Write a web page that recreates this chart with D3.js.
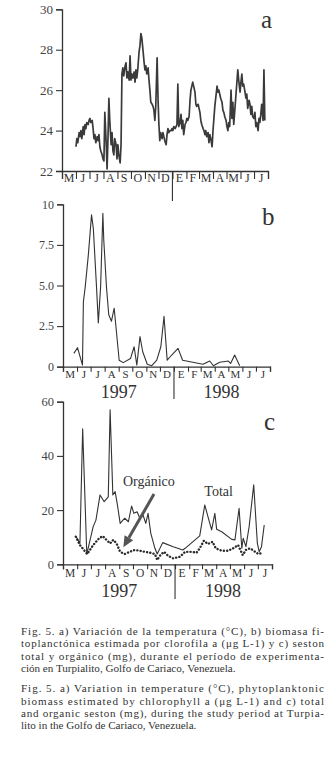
<!DOCTYPE html>
<html><head><meta charset="utf-8">
<script src="https://cdn.jsdelivr.net/npm/d3@7"></script>
<style>body{margin:0;background:#fff}svg{display:block}</style>
</head><body>
<svg id="chart" width="327" height="770"></svg>
<script>
// ---- data ----
const monthLabels = ["M","J","J","A","S","O","N","D","E","F","M","A","M","J","J"];
const yearLabels = ["1997","1998"];
const panelLetters = ["a","b","c"];
const tempTicks = [22,24,26,28,30];
const chlTicks = [0,2.5,5,7.5,10];
const chlTickLabels = ["0","2.5","5.0","7.5","10"];
const sestonTicks = [0,20,40,60];

// days since 1 May 1997
const tempDays = [31,33,35,38,40,42,44,47,49,51,53,55,58,60,62,64,67,69,71,73,75,78,80,82,84,86,89,91,93,95,98,100,102,104,106,109,111,113,115,117,120,122,124,126,129,131,133,135,137,140,142,144,146,149,151,153,155,157,160,162,164,166,168,171,173,175,177,180,182,184,186,188,191,193,195,197,200,202,204,206,208,211,213,215,217,219,222,224,226,228,231,233,235,237,239,242,244,246,248,251,253,255,257,259,262,264,266,268,270,273,275,277,279,282,284,286,288,290,293,295,297,299,302,304,306,308,310,313,315,317,319,321,324,326,328,330,333,335,337,339,341,344,346,348,350,352,355,357,359,361,364,366,368,370,372,375,377,379,381,384,386,388,390,392,395,397,399,401,403,406,408,410,412,415,417,419,421,423,426,428,430,432,435,437,439,441,443,446,448,450];
const tempValues = [23.2,23.6,23.4,23.9,23.7,24.0,23.6,24.2,23.8,24.3,24.1,24.4,24.3,24.5,24.6,24.4,24.5,24.1,23.6,23.8,23.4,23.7,23.5,23.8,23.2,23.0,22.8,22.6,22.5,24.9,23.4,22.1,23.6,25.6,24.5,23.3,23.9,23.0,22.8,23.6,23.3,22.6,23.3,22.8,22.4,23.3,26.8,27.1,26.7,27.2,27.35,26.6,26.9,26.5,27.7,26.5,26.8,26.6,26.9,26.4,27.0,26.6,27.0,27.9,28.2,28.8,28.6,27.9,27.4,27.0,27.2,26.8,27.1,26.5,26.0,25.4,25.3,25.2,25.0,24.5,25.2,27.6,25.6,24.3,23.5,23.9,23.6,23.9,23.7,23.5,23.3,23.8,24.1,23.9,24.0,24.0,24.1,24.0,24.2,24.1,24.2,24.3,26.3,24.2,24.4,24.8,24.1,24.5,23.8,24.3,24.4,24.6,24.5,24.7,25.5,26.0,26.2,26.4,26.1,25.9,25.3,25.2,25.3,25.1,24.9,24.5,24.3,24.1,24.0,23.8,24.0,23.7,23.9,23.4,23.8,23.6,23.2,24.0,24.6,25.2,25.6,26.2,25.9,26.0,25.8,25.6,25.4,25.0,24.9,24.7,24.5,24.2,24.0,24.4,24.2,26.0,24.6,25.4,24.3,25.2,25.8,26.4,27.0,26.5,25.9,26.4,26.8,26.2,26.3,25.9,25.6,25.8,25.1,25.5,25.3,24.8,25.2,24.7,24.6,24.9,24.2,24.4,24.0,24.6,24.4,24.8,25.3,24.5,27.0,24.5];

const chlDays = [24,32,43,45,49,56,63,67,74,78,83,88,90,96,101,107,113,124,133,149,157,163,170,176,186,196,207,216,223,230,240,254,264,309,324,332,346,365,370,379,390];
const chlValues = [0.82,1.17,0.1,4.0,4.9,6.9,9.35,8.5,4.9,2.7,4.9,9.45,7.8,4.9,3.2,2.8,3.6,0.4,0.25,0.5,1.23,0.1,1.85,0.92,0.15,0.06,0.4,1.23,3.1,0.4,0.72,1.13,0.4,0.15,0.35,0.06,0.27,0.35,0.2,0.72,0.06];

const totalDays = [29,37,43,52,66,72,81,90,99,103,109,114,119,125,135,143,150,155,162,168,175,181,186,192,201,206,218,241,262,267,299,310,319,325,332,336,347,369,376,385,391,394,400,407,417,425,429,434,440];
const totalValues = [10.2,7.7,50,3.8,13.9,16.3,25.6,23.1,24.9,57,25.6,26.8,21.9,15.1,17,15.7,21.5,18.8,19.4,17,18.2,15.1,18.8,11.4,5.9,3.8,8.0,6.5,5.3,5.9,10.5,21.9,16.3,12.7,18.8,12.9,12.0,9.2,9.0,20.7,5.9,9.6,6.5,13.9,29.3,7.7,4.6,6.5,14.5];

const organicDays = [28,37,53,66,79,87,95,103,110,117,125,135,146,157,168,179,190,201,206,213,221,230,241,256,267,281,292,299,308,317,327,334,347,361,372,383,393,400,409,417,427,438];
const organicValues = [10.2,7.1,3.8,7.1,9.6,10.4,9.0,7.7,9.0,7.7,4.6,3.8,4.6,5.3,5.0,4.6,4.3,3.8,1.6,3.4,4.6,3.1,2.2,2.8,4.6,4.6,4.3,5.9,8.7,7.5,8.3,5.9,5.0,5.0,5.9,7.1,3.4,5.3,5.9,5.0,3.8,4.3];

const captionEs = [
  "Fig. 5. a) Variación de la temperatura (°C), b) biomasa fi-",
  "toplanctónica estimada por clorofila a (μg L-1) y c) seston",
  "total y orgánico (mg), durante el período de experimenta-",
  "ción en Turpialito, Golfo de Cariaco, Venezuela."
];
const captionEn = [
  "Fig. 5. a) Variation in temperature (°C), phytoplanktonic",
  "biomass estimated by chlorophyll a  (μg L-1) and c) total",
  "and organic seston (mg), during the study period at Turpia-",
  "lito in the Golfo de Cariaco, Venezuela."
];

// ---- drawing ----
const svg = d3.select("#chart");
const ink = "#333";
const serif = "Liberation Serif, DejaVu Serif, serif";
const start = new Date(1997, 4, 1);
const end = new Date(1998, 7, 1);
const dayToDate = d => d3.timeDay.offset(start, d);
const months = d3.timeMonth.range(start, d3.timeDay.offset(end, 1));
const yearSplit = new Date(1998, 0, 1);

function panel(cfg) {
  const x = d3.scaleTime().domain([start, end]).range(cfg.xr);
  const y = d3.scaleLinear().domain(cfg.yd).range(cfg.yr);
  const g = svg.append("g");

  const ya = g.append("g").attr("transform", `translate(${cfg.xr[0]},0)`)
    .call(d3.axisLeft(y).tickValues(cfg.ticks).tickSizeOuter(0).tickSize(6).tickPadding(3)
      .tickFormat((d, i) => cfg.tickLabels[i]));
  const xa = g.append("g").attr("transform", `translate(0,${cfg.yr[0]})`)
    .call(d3.axisBottom(x).tickValues(months).tickSizeOuter(0).tickSize(cfg.xTick).tickFormat(""));
  [ya, xa].forEach(a => {
    a.attr("font-family", serif);
    a.select(".domain").attr("stroke", ink).attr("stroke-width", 1.3);
    a.selectAll(".tick line").attr("stroke", ink).attr("stroke-width", 1.1);
    a.selectAll("text").attr("fill", "#444").attr("font-family", serif).attr("font-size", cfg.yFont);
  });

  g.selectAll(".ml").data(monthLabels).join("text")
    .attr("x", (d, i) => (x(months[i]) + x(months[i + 1])) / 2)
    .attr("y", cfg.monthY)
    .attr("text-anchor", "middle").attr("font-family", serif).attr("font-size", cfg.monthFont)
    .attr("fill", ink).text(d => d);

  g.append("line").attr("x1", x(yearSplit)).attr("x2", x(yearSplit))
    .attr("y1", cfg.yr[0]).attr("y2", cfg.divEnd).attr("stroke", ink).attr("stroke-width", 1.1);

  if (cfg.yearY) {
    const yearPos = [new Date(1997, 8, 1), new Date(1998, 3, 16)];
    g.selectAll(".yl").data(yearLabels).join("text")
      .attr("x", (d, i) => x(yearPos[i])).attr("y", cfg.yearY)
      .attr("text-anchor", "middle").attr("font-family", serif).attr("font-size", 18)
      .attr("fill", ink).text(d => d);
  }

  g.append("text").attr("x", cfg.letterX).attr("y", cfg.letterY)
    .attr("font-family", serif).attr("font-size", 25).attr("fill", ink).text(cfg.letter);
  return {g, x, y};
}

// Panel a
const pa = panel({xr: [62, 268], yr: [171, 9.3], yd: [22, 30], ticks: tempTicks,
  tickLabels: tempTicks.map(String), xTick: 8, yFont: 13, monthY: 181.5, monthFont: 12,
  divEnd: 201, letter: panelLetters[0], letterX: 261, letterY: 28});
pa.g.append("path").datum(d3.zip(tempDays, tempValues))
  .attr("fill", "none").attr("stroke", "#3a3a3a").attr("stroke-width", 1.7).attr("stroke-linejoin", "round")
  .attr("d", d3.line().x(d => pa.x(dayToDate(d[0]))).y(d => pa.y(d[1])));

// Panel b
const pb = panel({xr: [63, 270], yr: [366.7, 204.3], yd: [0, 10], ticks: chlTicks,
  tickLabels: chlTickLabels, xTick: 5, yFont: 12, monthY: 378, monthFont: 11,
  divEnd: 399, yearY: 398, letter: panelLetters[1], letterX: 262, letterY: 225});
pb.g.append("path").datum(d3.zip(chlDays, chlValues))
  .attr("fill", "none").attr("stroke", ink).attr("stroke-width", 1.1).attr("stroke-linejoin", "round")
  .attr("d", d3.line().x(d => pb.x(dayToDate(d[0]))).y(d => pb.y(d[1])));

// Panel c
const pc = panel({xr: [63, 272], yr: [564.3, 401.7], yd: [0, 60], ticks: sestonTicks,
  tickLabels: sestonTicks.map(String), xTick: 5, yFont: 12.5, monthY: 577, monthFont: 11.5,
  divEnd: 599, yearY: 597, letter: panelLetters[2], letterX: 264, letterY: 430});
pc.g.append("path").datum(d3.zip(totalDays, totalValues))
  .attr("fill", "none").attr("stroke", ink).attr("stroke-width", 1.1).attr("stroke-linejoin", "round")
  .attr("d", d3.line().x(d => pc.x(dayToDate(d[0]))).y(d => pc.y(d[1])));
pc.g.append("path").datum(d3.zip(organicDays, organicValues))
  .attr("fill", "none").attr("stroke", "#2a2a2a").attr("stroke-width", 2.4)
  .attr("stroke-dasharray", "0.1 3.2").attr("stroke-linecap", "round")
  .attr("d", d3.line().x(d => pc.x(dayToDate(d[0]))).y(d => pc.y(d[1])));

// annotations (in data coordinates of panel c)
const at = (d, v) => [pc.x(dayToDate(d)), pc.y(v)];
const [ox, oy] = at(131, 29);
pc.g.append("text").attr("x", ox).attr("y", oy).attr("font-family", serif).attr("font-size", 14)
  .attr("fill", ink).text("Orgánico");
const [tx, ty] = at(309, 25.3);
pc.g.append("text").attr("x", tx).attr("y", ty).attr("font-family", serif).attr("font-size", 14)
  .attr("fill", ink).text("Total");
const tail = at(199, 25.9), tip = at(132, 6.3);
const ang = Math.atan2(tip[1] - tail[1], tip[0] - tail[0]);
const hl = 11, hw = 5;
const base = [tip[0] - hl * Math.cos(ang), tip[1] - hl * Math.sin(ang)];
pc.g.append("line").attr("x1", tail[0]).attr("y1", tail[1]).attr("x2", base[0]).attr("y2", base[1])
  .attr("stroke", "#555").attr("stroke-width", 3);
pc.g.append("polygon").attr("fill", "#555").attr("points", [
  tip,
  [base[0] + hw * Math.sin(ang), base[1] - hw * Math.cos(ang)],
  [base[0] - hw * Math.sin(ang), base[1] + hw * Math.cos(ang)]
].map(p => p.join(",")).join(" "));

// captions
function caption(lines, y0) {
  lines.forEach((t, i) => {
    const el = svg.append("text").attr("x", 21).attr("y", y0 + i * 12.35)
      .attr("font-family", serif).attr("font-size", 11.1).attr("fill", ink).text(t);
    if (i < lines.length - 1) el.attr("textLength", 303).attr("lengthAdjust", "spacing");
  });
}
caption(captionEs, 635);
caption(captionEn, 692.3);
</script>
</body></html>
